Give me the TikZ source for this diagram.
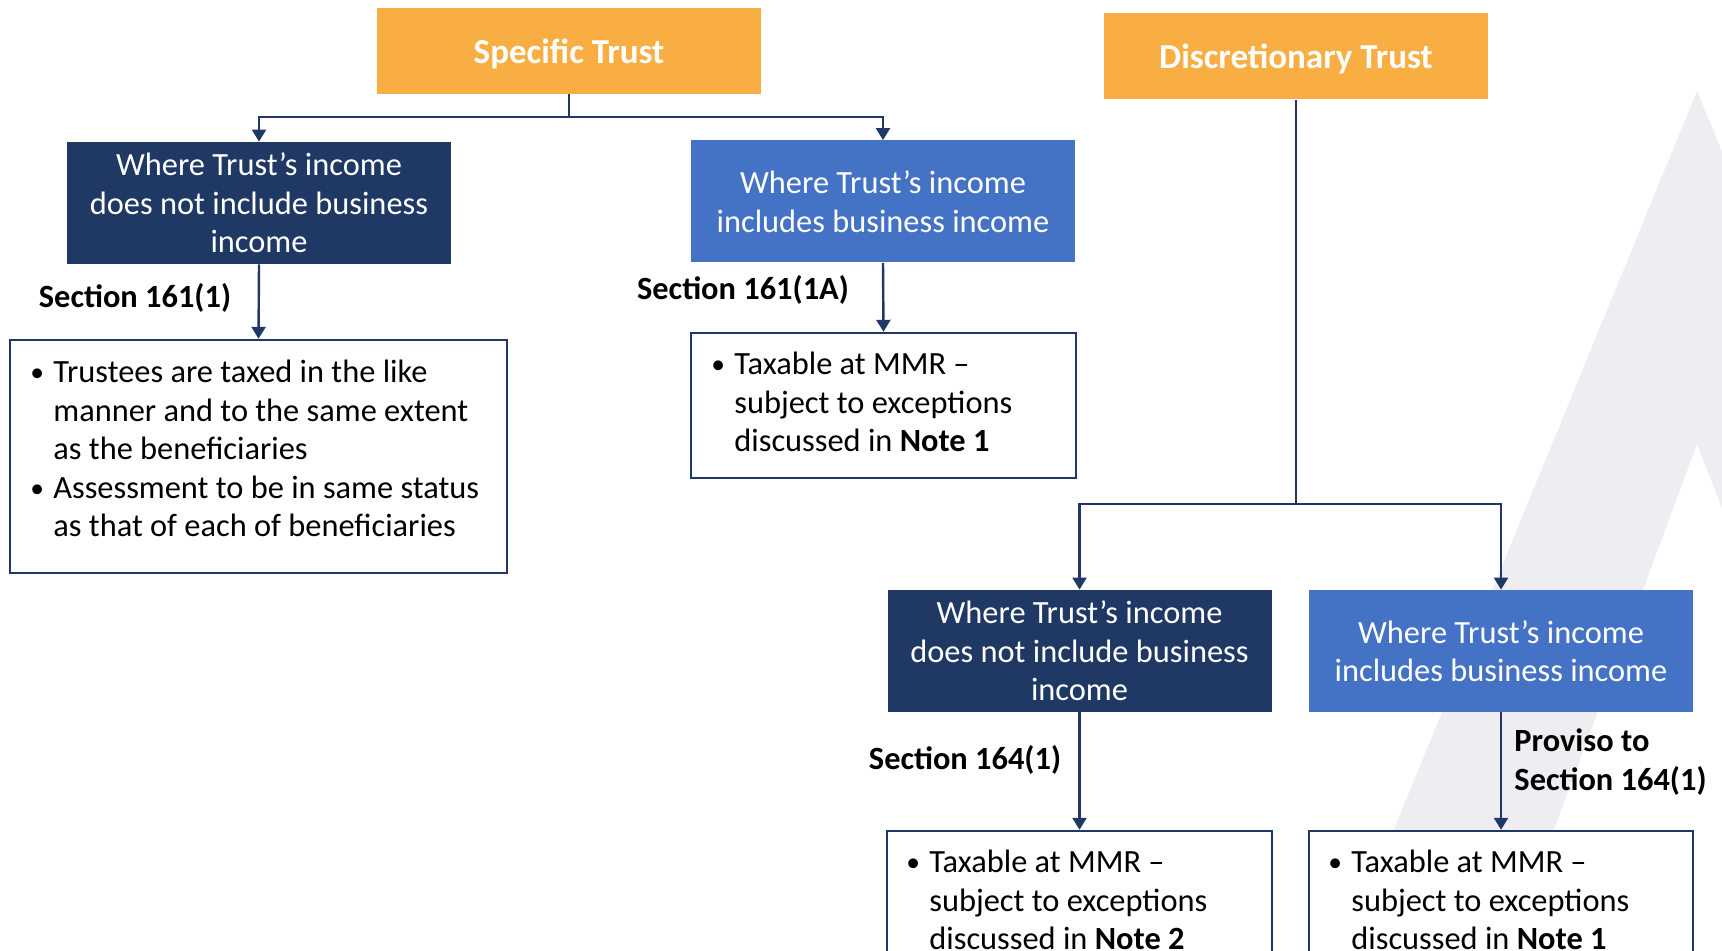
\documentclass[tikz,border=0pt]{standalone}
\usepackage{fontspec}
\setmainfont{Carlito}
\usetikzlibrary{arrows.meta}
\definecolor{orangeT}{RGB}{248,174,67}
\definecolor{navyB}{RGB}{32,56,100}
\definecolor{blueB}{RGB}{68,114,196}
\definecolor{lineC}{RGB}{31,56,100}
\definecolor{bgG}{RGB}{237,237,242}
\tikzset{
  titlebox/.style={fill=orangeT, text=white, minimum width=192pt, minimum height=43pt, inner sep=0pt, text depth=0pt, font=\fontsize{17.5}{20}\selectfont\bfseries},
  darkbox/.style={fill=navyB, text=white, minimum width=192pt, minimum height=61pt, inner sep=0pt, align=center, font=\fontsize{16.2}{19.25}\selectfont},
  bluebox/.style={fill=blueB, text=white, minimum width=192pt, minimum height=61pt, inner sep=0pt, align=center, font=\fontsize{16.2}{19.25}\selectfont},
  txtbox/.style={draw=lineC, line width=1.2pt, fill=white, inner sep=0pt},
  txt/.style={anchor=north west, inner sep=0pt, align=left, font=\fontsize{16.2}{19.25}\selectfont},
  lbl/.style={inner sep=0pt, font=\fontsize{16.2}{19.25}\selectfont\bfseries},
  conn/.style={draw=lineC, line width=1.2pt},
  arr/.style={conn, -{Triangle[width=7pt,length=6pt]}},
}
\newcommand{\bul}{\makebox[11.5pt][l]{\raisebox{0.5pt}{\scalebox{0.85}{\textbullet}}}}
\newcommand{\ind}{\hspace*{11.5pt}}
\begin{document}
\begin{tikzpicture}[x=0.5pt,y=-0.5pt]
\useasboundingbox (0,0) rectangle (1722,951);
% background shape
\begin{scope}
\clip (0,0) rectangle (1722,951);
\fill[bgG, even odd rule] (1697,91) -- (2050,951) -- (1344,951) -- cycle
  (1697,444) -- (1895,951) -- (1509,951) -- cycle;
\end{scope}
% title boxes
\node[titlebox] (st) at (569,51) {Specific Trust};
\node[titlebox] (dt) at (1296,56.5) {Discretionary Trust};
% level 2
\node[darkbox] (a1) at (259,203) {Where Trust’s income\\does not include business\\income};
\node[bluebox] (a2) at (883,201.5) {Where Trust’s income\\includes business income};
\node[darkbox] (c1) at (1079.5,651) {Where Trust’s income\\does not include business\\income};
\node[bluebox] (c2) at (1501,651) {Where Trust’s income\\includes business income};
% text boxes
\node[txtbox, minimum width=248.5pt, minimum height=116.5pt] (t1) at (258.5,456.5) {};
\node[txtbox, minimum width=192.5pt, minimum height=72.5pt] (t2) at (883.5,405.5) {};
\node[txtbox, minimum width=192.5pt, minimum height=80pt] (t3) at (1079.5,911) {};
\node[txtbox, minimum width=192pt, minimum height=80pt] (t4) at (1501,911) {};
% text in boxes
\node[txt] (x1) at (30,360) {%
  \bul Trustees are taxed in the like\\
  \ind manner and to the same extent\\
  \ind as the beneficiaries\\
  \bul Assessment to be in same status\\
  \ind as that of each of beneficiaries};
\node[txt] (x2) at (711,352) {%
  \bul Taxable at MMR –\\
  \ind subject to exceptions\\
  \ind discussed in \textbf{Note 1}};
\node[txt] (x3) at (906,850) {%
  \bul Taxable at MMR –\\
  \ind subject to exceptions\\
  \ind discussed in \textbf{Note 2}};
\node[txt] (x4) at (1328,850) {%
  \bul Taxable at MMR –\\
  \ind subject to exceptions\\
  \ind discussed in \textbf{Note 1}};
% connectors
\coordinate (sj) at (569,117);
\coordinate (dj) at (1296,504);
\draw[conn] (st.south) -- (sj);
\draw[arr] (sj) -| (a1.north);
\draw[arr] (sj) -| (a2.north);
\draw[conn] (dt.south) -- (dj);
\draw[arr] (dj) -| (c1.north);
\draw[arr] (dj) -| (c2.north);
\draw[arr] (a1.south) -- (t1.north);
\draw[arr] (a2.south) -- (t2.north);
\draw[arr] (c1.south) -- (t3.north);
\draw[arr] (c2.south) -- (t4.north);
% labels
\node[lbl] (l1) at (135,298) {Section 161(1)};
\node[lbl] (l2) at (743,290) {Section 161(1A)};
\node[lbl] (l3) at (965,760) {Section 164(1)};
\node[lbl, anchor=west, align=left] (l4) at (1514,762) {Proviso to\\Section 164(1)};
\end{tikzpicture}
\end{document}
